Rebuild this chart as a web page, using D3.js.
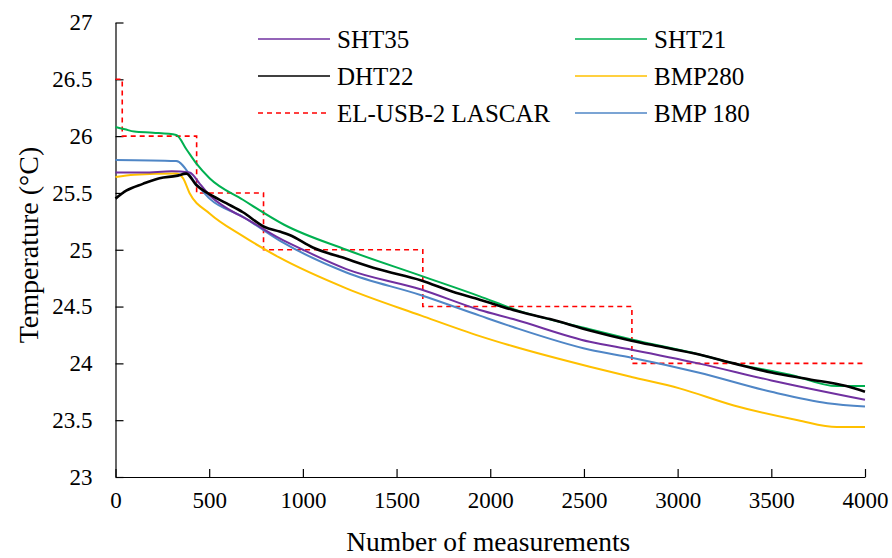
<!DOCTYPE html>
<html>
<head>
<meta charset="utf-8">
<script src="https://cdn.jsdelivr.net/npm/d3@7"></script>
<style>
	body { margin: 0; background: #fff; }
</style>
</head>
<body>
<svg id="chart" width="892" height="558"></svg>
<script>
// values
const xTicks = [0, 500, 1000, 1500, 2000, 2500, 3000, 3500, 4000];
const yTicks = [23, 23.5, 24, 24.5, 25, 25.5, 26, 26.5, 27];

const sht35X = [0, 150, 300, 395, 450, 502, 600, 700, 876, 1000, 1232, 1632, 1944, 2122, 2531, 2754, 3110, 3500, 4000];
const sht35Y = [25.68, 25.68, 25.69, 25.68, 25.58, 25.48, 25.36, 25.27, 25.10, 25.00, 24.83, 24.65, 24.47, 24.39, 24.19, 24.12, 24.00, 23.85, 23.68];

const sht21X = [0, 50, 100, 200, 324, 380, 431, 502, 680, 900, 1232, 1632, 1944, 2122, 2531, 2754, 3110, 3300, 3600, 3850, 4000];
const sht21Y = [26.08, 26.06, 26.04, 26.03, 26.01, 25.88, 25.76, 25.63, 25.44, 25.22, 25.00, 24.77, 24.59, 24.48, 24.30, 24.21, 24.08, 24.00, 23.90, 23.80, 23.80];

const dht22X = [0, 57, 146, 235, 324, 378, 431, 490, 591, 680, 796, 876, 929, 1053, 1232, 1400, 1632, 1800, 1944, 2042, 2122, 2318, 2531, 2754, 2900, 3110, 3300, 3500, 3700, 3900, 4000];
const dht22Y = [25.45, 25.52, 25.58, 25.63, 25.65, 25.67, 25.57, 25.50, 25.41, 25.33, 25.20, 25.16, 25.13, 25.02, 24.92, 24.83, 24.73, 24.63, 24.56, 24.51, 24.47, 24.39, 24.29, 24.20, 24.15, 24.08, 24.00, 23.92, 23.86, 23.80, 23.75];

const bmp280X = [0, 100, 324, 360, 395, 502, 680, 876, 1232, 1632, 1944, 2122, 2531, 2754, 3010, 3300, 3642, 3850, 4000];
const bmp280Y = [25.64, 25.66, 25.67, 25.63, 25.50, 25.32, 25.12, 24.93, 24.66, 24.42, 24.24, 24.15, 23.97, 23.88, 23.78, 23.63, 23.50, 23.44, 23.44];

const bmp180X = [0, 324, 431, 502, 680, 876, 1232, 1632, 1944, 2122, 2531, 2754, 3110, 3500, 3800, 4000];
const bmp180Y = [25.79, 25.78, 25.58, 25.45, 25.29, 25.08, 24.80, 24.60, 24.42, 24.32, 24.12, 24.05, 23.92, 23.75, 23.65, 23.62];

const lascarX = [0, 36, 433, 790, 1640, 2756, 4000];
const lascarY = [26.5, 26.0, 25.5, 25.0, 24.5, 24.0, 24.0];

const series = [
	{ name: 'SHT35', xs: sht35X, ys: sht35Y, color: '#7030A0', width: 2 },
	{ name: 'SHT21', xs: sht21X, ys: sht21Y, color: '#00B050', width: 2 },
	{ name: 'DHT22', xs: dht22X, ys: dht22Y, color: '#000000', width: 2.6 },
	{ name: 'BMP280', xs: bmp280X, ys: bmp280Y, color: '#FFC000', width: 2 },
	{ name: 'EL-USB-2 LASCAR', xs: lascarX, ys: lascarY, color: '#FF0000', width: 1.6, dash: '5,4', step: true },
	{ name: 'BMP 180', xs: bmp180X, ys: bmp180Y, color: '#4F86C6', width: 2 }
];

const FONT = '"Liberation Serif", "Times New Roman", serif';

const margin = { top: 22.5, left: 115.5, right: 27, bottom: 81 };
const width = 892 - margin.left - margin.right;
const height = 558 - margin.top - margin.bottom;

const svg = d3.select('#chart');
const g = svg.append('g')
	.attr('transform', 'translate(' + margin.left + ',' + margin.top + ')');

const x = d3.scaleLinear().domain([0, 4000]).range([0, width]);
const y = d3.scaleLinear().domain([23, 27]).range([height, 0]);

// axes, ticks pointing inward
const xAxis = g.append('g')
	.attr('transform', 'translate(0,' + height + ')')
	.call(d3.axisBottom(x).tickValues(xTicks).tickFormat(d3.format('d'))
		.tickSizeInner(-8).tickSizeOuter(0).tickPadding(15));

const yAxis = g.append('g')
	.call(d3.axisLeft(y).tickValues(yTicks).tickFormat(d3.format(''))
		.tickSizeInner(-8).tickSizeOuter(0).tickPadding(23));

[xAxis, yAxis].forEach(a => {
	a.attr('font-family', null).attr('font-size', null);
	a.selectAll('path, line').attr('stroke', '#000').attr('stroke-width', 1.2);
	a.selectAll('text')
		.style('font-family', FONT)
		.style('font-size', '23px')
		.attr('fill', '#000');
});

// lines
const drawSeries = s => {
	const pts = s.xs.map((v, i) => [v, s.ys[i]]);
	const line = d3.line()
		.x(d => x(d[0]))
		.y(d => y(d[1]))
		.curve(s.step ? d3.curveStepAfter : d3.curveMonotoneX);
	g.append('path')
		.datum(pts)
		.attr('fill', 'none')
		.attr('stroke', s.color)
		.attr('stroke-width', s.width)
		.attr('stroke-dasharray', s.dash || null)
		.attr('d', line);
};

// draw order: LASCAR underneath, DHT22 on top
[series[4], series[3], series[5], series[0], series[1], series[2]].forEach(drawSeries);

// legend
const legendCols = [258, 575];
const legendRows = [39, 76, 113];
const legend = svg.append('g').attr('class', 'legend');

series.forEach((s, i) => {
	const lx = legendCols[i % 2];
	const ly = legendRows[Math.floor(i / 2)];
	const item = legend.append('g').attr('transform', 'translate(' + lx + ',' + ly + ')');
	item.append('line')
		.attr('x1', 0).attr('x2', 72)
		.attr('y1', 0).attr('y2', 0)
		.attr('stroke', s.color)
		.attr('stroke-width', s.dash ? 1.4 : 1.6)
		.attr('stroke-dasharray', s.dash || null);
	item.append('text')
		.attr('x', 79)
		.attr('y', 0)
		.attr('dy', '0.35em')
		.style('font-family', FONT)
		.style('font-size', '25px')
		.text(s.name);
});

// axis titles
svg.append('text')
	.attr('x', margin.left + width / 2 - 2)
	.attr('y', 551)
	.attr('text-anchor', 'middle')
	.style('font-family', FONT)
	.style('font-size', '27.5px')
	.text('Number of measurements');

svg.append('text')
	.attr('transform', 'translate(38,245) rotate(-90)')
	.attr('text-anchor', 'middle')
	.style('font-family', FONT)
	.style('font-size', '28px')
	.text('Temperature (°C)');
</script>
</body>
</html>
